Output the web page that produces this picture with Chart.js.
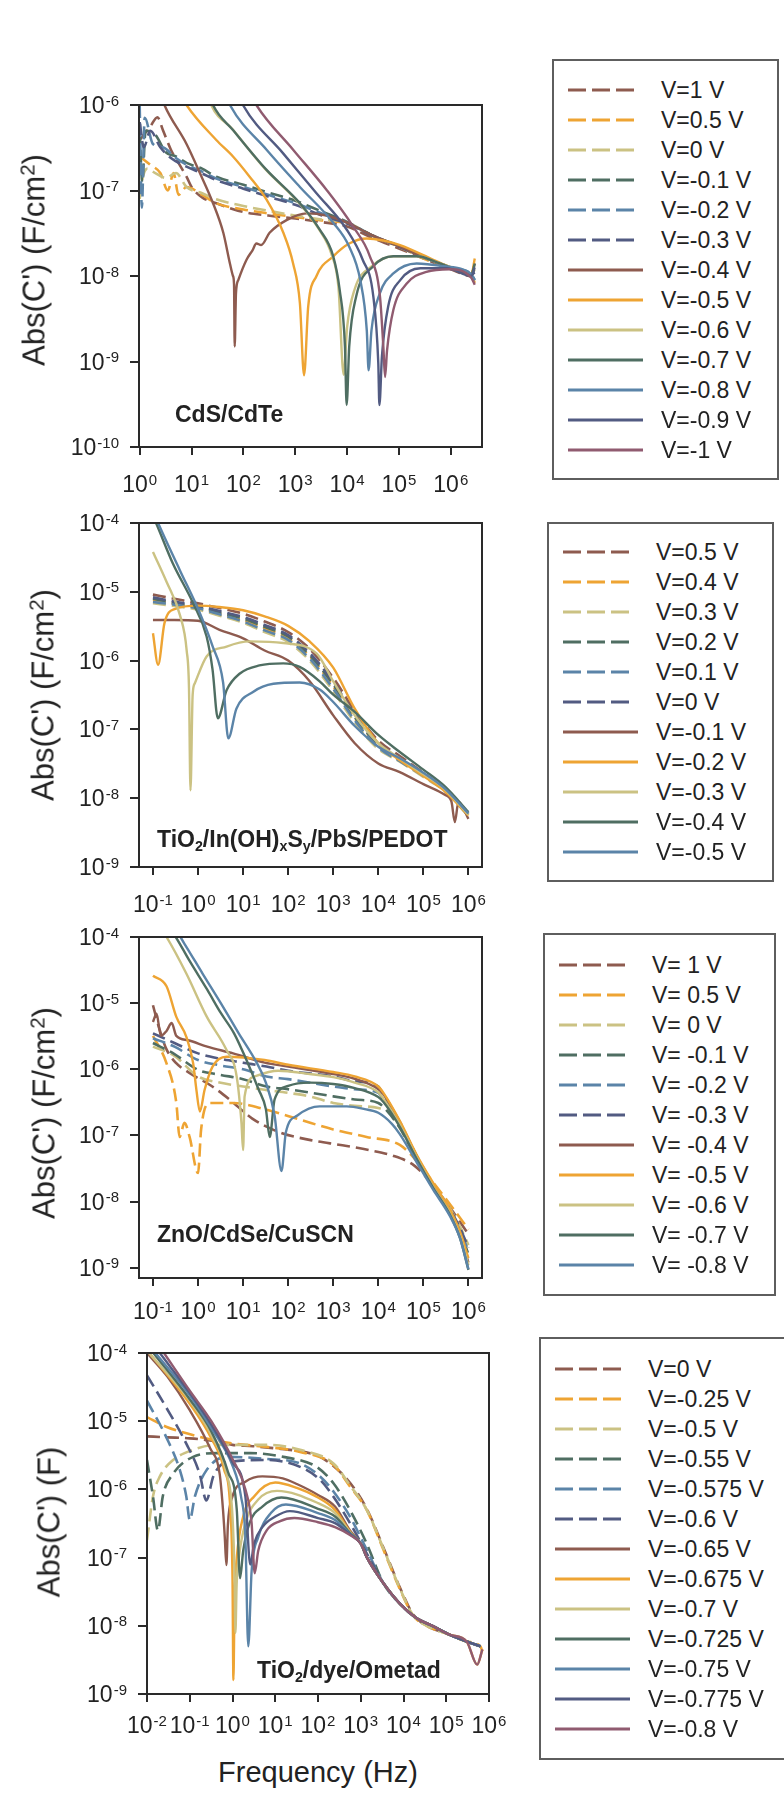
<!DOCTYPE html>
<html>
<head>
<meta charset="utf-8">
<script src="https://cdn.jsdelivr.net/npm/chart.js@4.4.1/dist/chart.umd.min.js"></script>
<style>
    body {
        margin: 0;
        width: 784px;
        height: 1796px;
        position: relative;
        overflow: hidden;
        background: #fff;
        color: #222;
        font-family: "Liberation Sans", Arial, sans-serif;
    }
    .plot { position: absolute; left: 0; }
    .ytitle {
        position: absolute;
        font-size: 31px;
        line-height: 31px;
        white-space: nowrap;
        transform: translate(-50%, -50%) rotate(-90deg);
    }
    .ytitle sup { font-size: 0.66em; vertical-align: 0.5em; line-height: 0; }
    .tag {
        position: absolute;
        font-size: 23px;
        line-height: 23px;
        font-weight: bold;
        white-space: nowrap;
    }
    .tag sub { font-size: 0.62em; vertical-align: -0.3em; line-height: 0; }
    .xtitle {
        position: absolute;
        font-size: 29px;
        line-height: 29px;
        white-space: nowrap;
        transform: translateX(-50%);
    }
    .legend {
        position: absolute;
        border: 2px solid #5e5e5e;
        box-sizing: border-box;
        background: #fff;
    }
    .legend svg { position: absolute; }
    .legend span {
        position: absolute;
        font-size: 23px;
        line-height: 30px;
        white-space: nowrap;
    }
</style>
</head>
<body>
<script>
// ---- data: frequency (Hz), Abs(C') ----

const cdteLabels = ['V=1 V', 'V=0.5 V', 'V=0 V', 'V=-0.1 V', 'V=-0.2 V', 'V=-0.3 V', 'V=-0.4 V',
    'V=-0.5 V', 'V=-0.6 V', 'V=-0.7 V', 'V=-0.8 V', 'V=-0.9 V', 'V=-1 V'];
const cdteXDecades = [0, 1, 2, 3, 4, 5, 6];
const cdteYDecades = [-10, -9, -8, -7, -6];
const cdteCurves = [
    [[1, 3.9e-7], [1.6, 5.6e-7], [2.2, 7.2e-7], [2.8, 5.1e-7], [4, 3.0e-7], [5.6, 2.1e-7], [8, 1.45e-7], [10, 1.1e-7], [16, 8.3e-8], [30, 7.1e-8], [100, 5.6e-8], [300, 5.1e-8], [1e3, 4.7e-8], [3e3, 4.3e-8], [1e4, 3.8e-8], [3e4, 2.8e-8], [1e5, 2.1e-8], [3e5, 1.6e-8], [1e6, 1.2e-8], [2.5e6, 1.0e-8], [2.9e6, 1.4e-8]],
    [[1, 2.5e-7], [1.6, 2.0e-7], [2.5, 1.6e-7], [3.5, 1.0e-7], [4.5, 1.6e-7], [5.6, 8.9e-8], [8, 1.1e-7], [16, 8.9e-8], [30, 7.1e-8], [100, 6.0e-8], [300, 5.4e-8], [1e3, 4.9e-8], [3e3, 4.5e-8], [1e4, 4.1e-8], [3e4, 3.0e-8], [1e5, 2.2e-8], [3e5, 1.6e-8], [1e6, 1.23e-8], [2.5e6, 1.02e-8], [2.9e6, 8.3e-9]],
    [[1, 8e-8], [1.1, 1.26e-7], [1.4, 1.8e-7], [2, 1.6e-7], [3.2, 1.4e-7], [5, 1.6e-7], [8, 1.1e-7], [16, 9.3e-8], [30, 7.9e-8], [100, 6.6e-8], [300, 5.8e-8], [1e3, 5.1e-8], [3e3, 4.6e-8], [1e4, 4.2e-8], [3e4, 3.0e-8], [1e5, 2.2e-8], [3e5, 1.65e-8], [1e6, 1.25e-8], [2.5e6, 1.03e-8], [2.9e6, 1.2e-8]],
    [[1, 5.0e-7], [1.12, 1.26e-7], [1.3, 5.0e-7], [2, 4.5e-7], [3.2, 2.8e-7], [5, 2.5e-7], [8, 2.1e-7], [16, 1.8e-7], [30, 1.45e-7], [100, 1.17e-7], [300, 9.5e-8], [1e3, 7.6e-8], [3e3, 5.8e-8], [1e4, 4.3e-8], [3e4, 3.0e-8], [1e5, 2.24e-8], [3e5, 1.66e-8], [1e6, 1.26e-8], [2.5e6, 1.05e-8], [2.9e6, 1.26e-8]],
    [[1, 1.0e-6], [1.1, 6.3e-8], [1.25, 7.1e-7], [1.8, 3.5e-7], [2.8, 3.2e-7], [5, 2.4e-7], [8, 2.0e-7], [16, 1.66e-7], [30, 1.38e-7], [100, 1.1e-7], [300, 8.9e-8], [1e3, 7.1e-8], [3e3, 5.5e-8], [1e4, 4.2e-8], [3e4, 3.0e-8], [1e5, 2.24e-8], [3e5, 1.66e-8], [1e6, 1.26e-8], [2.5e6, 1.05e-8], [2.9e6, 9e-9]],
    [[1, 6.3e-7], [1.2, 3.2e-7], [1.6, 5.0e-7], [2.5, 3.2e-7], [4, 2.4e-7], [8, 1.9e-7], [16, 1.58e-7], [30, 1.32e-7], [100, 1.05e-7], [300, 8.5e-8], [1e3, 6.8e-8], [3e3, 5.2e-8], [1e4, 4.1e-8], [3e4, 3.0e-8], [1e5, 2.2e-8], [3e5, 1.65e-8], [1e6, 1.25e-8], [2.5e6, 1.04e-8], [2.9e6, 1.1e-8]],
    [[2, 2.0e-6], [3, 1.0e-6], [8, 3.5e-7], [14.5, 1.6e-7], [26, 7.1e-8], [41, 3.2e-8], [55, 1.4e-8], [63, 1.0e-8], [66, 8e-9], [68, 1.5e-9], [72, 6.3e-9], [80, 9e-9], [115, 1.55e-8], [150, 2.0e-8], [178, 2.4e-8], [220, 2.3e-8], [320, 3.2e-8], [680, 4.5e-8], [1660, 5.4e-8], [4000, 5.1e-8], [1e4, 4.2e-8], [3e4, 3.0e-8], [1e5, 2.24e-8], [3e5, 1.66e-8], [1e6, 1.26e-8], [2.5e6, 1.05e-8], [2.9e6, 1.4e-8]],
    [[4.4, 1.95e-6], [8, 1.0e-6], [30, 3.9e-7], [63, 2.5e-7], [132, 1.45e-7], [280, 7.8e-8], [590, 3.2e-8], [910, 1.4e-8], [1230, 4.8e-9], [1480, 6.9e-10], [1780, 4.4e-9], [2570, 1.0e-8], [5400, 1.7e-8], [1.1e4, 2.4e-8], [2.4e4, 2.75e-8], [5e4, 2.6e-8], [1.05e5, 2.3e-8], [4.6e5, 1.55e-8], [1e6, 1.26e-8], [2.5e6, 1.05e-8], [2.9e6, 1.6e-8]],
    [[18, 1.8e-6], [24, 1.0e-6], [60, 5.3e-7], [260, 1.8e-7], [1150, 7.3e-8], [2800, 3.6e-8], [5000, 1.8e-8], [6800, 7.5e-9], [8600, 7e-10], [1.0e4, 2.5e-9], [1.4e4, 7e-9], [3e4, 1.3e-8], [8e4, 1.7e-8], [2.2e5, 1.7e-8], [6.2e5, 1.4e-8], [2.5e6, 1.05e-8]],
    [[20, 1.6e-6], [26, 1.0e-6], [63, 5.1e-7], [280, 1.74e-7], [1230, 7.1e-8], [2950, 3.5e-8], [5400, 1.7e-8], [7200, 6.9e-9], [9100, 1.5e-9], [9800, 3.1e-10], [1.1e4, 1.5e-9], [1.5e4, 5.8e-9], [3.2e4, 1.3e-8], [7.8e4, 1.7e-8], [2.2e5, 1.7e-8], [6.2e5, 1.4e-8], [2.5e6, 1.05e-8], [2.9e6, 1.4e-8]],
    [[40, 1.6e-6], [55, 1.0e-6], [280, 3.0e-7], [1230, 1.1e-7], [5400, 4.2e-8], [1.1e4, 2.2e-8], [1.8e4, 8.9e-9], [2.4e4, 2.3e-9], [2.6e4, 7.9e-10], [2.95e4, 2.3e-9], [4.3e4, 6.3e-9], [7.8e4, 1.07e-8], [2.2e5, 1.4e-8], [7.2e5, 1.3e-8], [2.5e6, 1.05e-8], [2.9e6, 8.9e-9]],
    [[70, 1.6e-6], [98, 1.0e-6], [590, 2.7e-7], [2570, 9.3e-8], [9800, 3.5e-8], [2.0e4, 1.55e-8], [3.2e4, 5.8e-9], [4.0e4, 9.5e-10], [4.2e4, 3.1e-10], [4.7e4, 1.15e-9], [6.2e4, 4.4e-9], [1.05e5, 8.9e-9], [2.6e5, 1.23e-8], [8.3e5, 1.23e-8], [2.5e6, 1.0e-8], [2.9e6, 1.26e-8]],
    [[120, 1.6e-6], [178, 1.0e-6], [910, 3.0e-7], [4000, 1.02e-7], [1.3e4, 3.8e-8], [2.75e4, 1.7e-8], [4.3e4, 5.8e-9], [5.0e4, 1.5e-9], [5.4e4, 6.6e-10], [5.9e4, 1.35e-9], [7.8e4, 4.0e-9], [1.4e5, 8.1e-9], [3.4e5, 1.12e-8], [9.5e5, 1.2e-8], [2.5e6, 9.5e-9], [2.9e6, 7.9e-9]]
];

const pbsLabels = ['V=0.5 V', 'V=0.4 V', 'V=0.3 V', 'V=0.2 V', 'V=0.1 V', 'V=0 V', 'V=-0.1 V',
    'V=-0.2 V', 'V=-0.3 V', 'V=-0.4 V', 'V=-0.5 V'];
const pbsXDecades = [-1, 0, 1, 2, 3, 4, 5, 6];
const pbsYDecades = [-9, -8, -7, -6, -5, -4];
const pbsCurves = [
    [[0.1, 9.1e-6], [0.3, 7.9e-6], [1, 6.8e-6], [3, 5.8e-6], [10, 4.8e-6], [30, 3.7e-6], [100, 2.6e-6], [300, 1.48e-6], [1e3, 5.6e-7], [3e3, 1.86e-7], [1e4, 6.9e-8], [3e4, 4.1e-8], [1e5, 2.34e-8], [3e5, 1.35e-8], [1e6, 5.9e-9]],
    [[0.1, 7.6e-6], [0.3, 6.6e-6], [1, 5.9e-6], [3, 4.8e-6], [10, 3.9e-6], [30, 2.95e-6], [100, 2.1e-6], [300, 1.15e-6], [1e3, 4.2e-7], [3e3, 1.45e-7], [1e4, 5.8e-8], [3e4, 3.55e-8], [1e5, 2.14e-8], [3e5, 1.29e-8], [1e6, 5.6e-9]],
    [[0.1, 6.8e-6], [0.3, 6.2e-6], [1, 5.5e-6], [3, 4.5e-6], [10, 3.55e-6], [30, 2.6e-6], [100, 1.86e-6], [300, 1.0e-6], [1e3, 3.6e-7], [3e3, 1.26e-7], [1e4, 5.2e-8], [3e4, 3.4e-8], [1e5, 2.04e-8], [3e5, 1.26e-8], [1e6, 5.5e-9]],
    [[0.1, 7.9e-6], [0.3, 6.9e-6], [1, 6.2e-6], [3, 5.0e-6], [10, 4.1e-6], [30, 3.1e-6], [100, 2.24e-6], [300, 1.2e-6], [1e3, 4.5e-7], [3e3, 1.5e-7], [1e4, 6.0e-8], [3e4, 3.7e-8], [1e5, 2.2e-8], [3e5, 1.32e-8], [1e6, 5.75e-9]],
    [[0.1, 7.1e-6], [0.3, 6.5e-6], [1, 5.75e-6], [3, 4.7e-6], [10, 3.7e-6], [30, 2.75e-6], [100, 2.0e-6], [300, 1.07e-6], [1e3, 3.9e-7], [3e3, 1.35e-7], [1e4, 5.5e-8], [3e4, 3.45e-8], [1e5, 2.1e-8], [3e5, 1.29e-8], [1e6, 5.6e-9]],
    [[0.1, 8.3e-6], [0.3, 7.2e-6], [1, 6.3e-6], [3, 5.25e-6], [10, 4.3e-6], [30, 3.3e-6], [100, 2.34e-6], [300, 1.29e-6], [1e3, 4.9e-7], [3e3, 1.62e-7], [1e4, 6.3e-8], [3e4, 3.8e-8], [1e5, 2.24e-8], [3e5, 1.32e-8], [1e6, 5.75e-9]],
    [[0.1, 3.9e-6], [0.3, 3.9e-6], [1, 3.8e-6], [3, 2.8e-6], [10, 2.1e-6], [30, 1.4e-6], [100, 1.0e-6], [300, 5.0e-7], [1e3, 1.6e-7], [3e3, 6.3e-8], [1e4, 3.2e-8], [3e4, 2.4e-8], [1e5, 1.6e-8], [3e5, 1.12e-8], [4.2e5, 8.9e-9], [5e5, 4.5e-9], [6e5, 8.9e-9], [1e6, 5.0e-9]],
    [[0.1, 2.5e-6], [0.13, 8.7e-7], [0.18, 3.5e-6], [0.3, 5.6e-6], [1, 6.3e-6], [3, 6.0e-6], [10, 5.4e-6], [30, 4.4e-6], [100, 3.2e-6], [300, 1.9e-6], [1e3, 7.9e-7], [3e3, 2.0e-7], [1e4, 6.3e-8], [3e4, 3.55e-8], [1e5, 2.1e-8], [3e5, 1.26e-8], [1e6, 5.6e-9]],
    [[0.1, 3.8e-5], [0.2, 1.4e-5], [0.4, 4.5e-6], [0.56, 1.4e-6], [0.63, 4.0e-7], [0.68, 1.3e-8], [0.76, 3.2e-7], [0.85, 4.7e-7], [1.55, 1.15e-6], [4.3, 1.6e-6], [14, 1.9e-6], [78, 1.8e-6], [430, 1.26e-6], [1e3, 5.0e-7], [3e3, 1.6e-7], [1e4, 6.3e-8], [3e4, 3.8e-8], [1e5, 2.24e-8], [3e5, 1.35e-8], [1e6, 5.75e-9]],
    [[0.1, 1.25e-4], [0.117, 1.0e-4], [0.275, 2.6e-5], [0.78, 6.8e-6], [1.55, 2.24e-6], [2.1, 7.4e-7], [2.75, 1.45e-7], [4.3, 3.7e-7], [8.5, 6.5e-7], [23, 8.5e-7], [78, 9.1e-7], [180, 8.1e-7], [500, 5.0e-7], [1e3, 3.2e-7], [3e3, 1.8e-7], [1e4, 8.3e-8], [3e4, 4.7e-8], [1e5, 2.6e-8], [3e5, 1.48e-8], [1e6, 6.3e-9]],
    [[0.11, 1.3e-4], [0.13, 1.0e-4], [0.39, 2.1e-5], [1.1, 4.9e-6], [2.1, 1.62e-6], [3.6, 4.8e-7], [4.7, 7.4e-8], [7.1, 2.0e-7], [16.6, 3.5e-7], [47, 4.6e-7], [180, 4.8e-7], [500, 3.8e-7], [1e3, 2.5e-7], [3e3, 1.12e-7], [1e4, 5.6e-8], [3e4, 3.8e-8], [1e5, 2.34e-8], [3e5, 1.38e-8], [1e6, 6.0e-9]]
];

const cdseLabels = ['V= 1 V', 'V= 0.5 V', 'V= 0 V', 'V= -0.1 V', 'V= -0.2 V', 'V= -0.3 V', 'V= -0.4 V',
    'V= -0.5 V', 'V= -0.6 V', 'V= -0.7 V', 'V= -0.8 V'];
const cdseXDecades = [-1, 0, 1, 2, 3, 4, 5, 6];
const cdseYDecades = [-9, -8, -7, -6, -5, -4];
const cdseCurves = [
    [[0.1, 9.3e-6], [0.14, 4.0e-6], [0.2, 2.0e-6], [0.32, 1.26e-6], [0.63, 8.9e-7], [2, 5.6e-7], [5, 3.5e-7], [16, 1.8e-7], [63, 1.12e-7], [316, 8.5e-8], [1.6e3, 7.1e-8], [6.3e3, 6.0e-8], [2e4, 5.0e-8], [6.3e4, 3.5e-8], [1.6e5, 1.8e-8], [4e5, 7.9e-9], [1e6, 3.2e-9]],
    [[0.1, 3.2e-6], [0.2, 1.23e-6], [0.33, 3.1e-7], [0.39, 9.5e-8], [0.5, 1.55e-7], [0.65, 9.5e-8], [1.0, 2.7e-8], [1.17, 1.23e-7], [1.8, 3.1e-7], [6, 3.1e-7], [33, 2.45e-7], [180, 1.74e-7], [1e3, 1.23e-7], [5.5e3, 9.5e-8], [3e4, 7.2e-8], [6.3e4, 4.5e-8], [1.6e5, 2.0e-8], [4e5, 8.9e-9], [1e6, 3.8e-9]],
    [[0.1, 2.2e-6], [0.3, 1.6e-6], [1, 7.8e-7], [3, 6.3e-7], [10, 5.5e-7], [30, 4.9e-7], [100, 4.4e-7], [300, 3.9e-7], [1e3, 3.1e-7], [3e3, 2.8e-7], [1e4, 2.6e-7], [1.8e4, 2.2e-7], [3e4, 1.3e-7], [7e4, 4.6e-8], [1.66e5, 1.8e-8], [3.9e5, 7.8e-9], [6.5e5, 4.2e-9], [1e6, 2.2e-9]],
    [[0.1, 2.5e-6], [0.3, 1.7e-6], [1, 9.8e-7], [3, 8.3e-7], [10, 7.1e-7], [33, 5.5e-7], [100, 5.0e-7], [1e3, 3.9e-7], [3e3, 3.5e-7], [1e4, 3.1e-7], [1.3e4, 2.7e-7], [3e4, 1.3e-7], [7e4, 4.5e-8], [1.66e5, 1.7e-8], [3.9e5, 7.0e-9], [6.5e5, 3.5e-9], [1e6, 1.6e-9]],
    [[0.1, 2.95e-6], [0.3, 2.2e-6], [1, 1.38e-6], [3, 1.15e-6], [10, 1.0e-6], [33, 7.8e-7], [100, 7.1e-7], [1e3, 5.5e-7], [3e3, 5.0e-7], [1e4, 4.4e-7], [1.3e4, 3.5e-7], [3e4, 1.5e-7], [7e4, 4.8e-8], [1.66e5, 1.75e-8], [3.9e5, 7.1e-9], [6.5e5, 3.6e-9], [1e6, 1.8e-9]],
    [[0.1, 3.5e-6], [0.3, 2.5e-6], [1, 1.74e-6], [3, 1.45e-6], [10, 1.26e-6], [33, 1.1e-6], [100, 9.5e-7], [1e3, 7.8e-7], [3e3, 6.6e-7], [1e4, 5.5e-7], [1.3e4, 4.0e-7], [3e4, 1.6e-7], [7e4, 5.0e-8], [1.66e5, 1.8e-8], [3.9e5, 7.6e-9], [6.5e5, 4.0e-9], [1e6, 2.0e-9]],
    [[0.1, 5.2e-6], [0.12, 6.9e-6], [0.15, 3.2e-6], [0.2, 3.8e-6], [0.26, 5.0e-6], [0.33, 3.2e-6], [0.6, 2.75e-6], [1.6, 2.2e-6], [6, 1.74e-6], [30, 1.26e-6], [100, 1.1e-6], [1e3, 8.5e-7], [3e3, 7.2e-7], [1e4, 5.0e-7], [1.3e4, 4.2e-7], [3e4, 1.6e-7], [7e4, 5.0e-8], [1.66e5, 1.8e-8], [3.9e5, 7.2e-9], [6.5e5, 3.3e-9], [1e6, 1.2e-9]],
    [[0.1, 2.6e-5], [0.2, 1.8e-5], [0.33, 6.2e-6], [0.55, 3.1e-6], [0.78, 1.23e-6], [0.92, 4.9e-7], [1.1, 2.3e-7], [1.4, 4.9e-7], [2.1, 1.1e-6], [4.3, 1.55e-6], [30, 1.38e-6], [100, 1.17e-6], [1e3, 9.1e-7], [3e3, 7.8e-7], [1e4, 5.5e-7], [1.3e4, 4.4e-7], [3e4, 1.66e-7], [7e4, 5.2e-8], [1.66e5, 1.9e-8], [3.9e5, 7.6e-9], [6.5e5, 3.5e-9], [1e6, 1.4e-9]],
    [[0.1, 2.0e-4], [0.2, 1.0e-4], [0.55, 2.8e-5], [1.55, 6.3e-6], [4.3, 1.95e-6], [7.2, 7.8e-7], [9.2, 1.55e-7], [10, 6.0e-8], [10.8, 3.9e-7], [18, 7.8e-7], [60, 9.5e-7], [300, 8.5e-7], [1e3, 7.6e-7], [3e3, 6.3e-7], [1e4, 4.5e-7], [1.3e4, 3.6e-7], [3e4, 1.45e-7], [7e4, 4.7e-8], [1.66e5, 1.66e-8], [3.9e5, 6.6e-9], [6.5e5, 3.0e-9], [1e6, 1.1e-9]],
    [[0.25, 1.26e-4], [0.32, 1.0e-4], [0.63, 4.5e-5], [1.6, 1.6e-5], [3.2, 7.1e-6], [6.3, 3.5e-6], [12.6, 1.26e-6], [22, 5.0e-7], [32, 2.5e-7], [39, 9.5e-8], [50, 3.5e-7], [100, 5.6e-7], [300, 6.3e-7], [1e3, 6.0e-7], [3e3, 5.2e-7], [1e4, 3.8e-7], [1.3e4, 3.2e-7], [3e4, 1.35e-7], [7e4, 4.5e-8], [1.66e5, 1.6e-8], [3.9e5, 6.3e-9], [6.5e5, 2.8e-9], [1e6, 9.3e-10]],
    [[0.28, 1.3e-4], [0.32, 1.26e-4], [0.5, 7.9e-5], [1.26, 2.8e-5], [3.2, 1.0e-5], [8, 3.5e-6], [20, 1.26e-6], [32, 6.3e-7], [50, 2.0e-7], [71, 2.9e-8], [89, 1.12e-7], [160, 2.0e-7], [500, 2.75e-7], [2000, 2.75e-7], [5000, 2.5e-7], [1e4, 2.2e-7], [2e4, 1.5e-7], [3e4, 1.05e-7], [7e4, 4.0e-8], [1.66e5, 1.5e-8], [3.9e5, 6.0e-9], [6.5e5, 2.8e-9], [1e6, 9.5e-10]]
];

const omeLabels = ['V=0 V', 'V=-0.25 V', 'V=-0.5 V', 'V=-0.55 V', 'V=-0.575 V', 'V=-0.6 V', 'V=-0.65 V',
    'V=-0.675 V', 'V=-0.7 V', 'V=-0.725 V', 'V=-0.75 V', 'V=-0.775 V', 'V=-0.8 V'];
const omeXDecades = [-2, -1, 0, 1, 2, 3, 4, 5, 6];
const omeYDecades = [-9, -8, -7, -6, -5, -4];
const omeCurves = [
    [[0.01, 6.0e-6], [0.03, 5.8e-6], [0.1, 5.6e-6], [0.3, 5.2e-6], [1, 4.5e-6], [3, 4.3e-6], [10, 4.0e-6], [30, 3.7e-6], [100, 3.1e-6], [230, 2.2e-6], [560, 1.25e-6], [1380, 5.2e-7], [3400, 1.4e-7], [8300, 3.6e-8], [1.7e4, 1.45e-8], [3.5e4, 1.0e-8], [1.2e5, 7.4e-9], [3e5, 5.9e-9], [6.3e5, 5.0e-9]],
    [[0.01, 1.15e-5], [0.028, 8.3e-6], [0.17, 5.9e-6], [1.05, 4.7e-6], [6.3, 4.2e-6], [38, 3.55e-6], [230, 2.3e-6], [560, 1.1e-6], [1380, 5.0e-7], [3400, 1.3e-7], [8300, 3.4e-8], [1.7e4, 1.4e-8], [3.5e4, 1.0e-8], [1.2e5, 7.4e-9], [3e5, 5.9e-9], [6.3e5, 5.0e-9], [7e5, 4.2e-9]],
    [[0.01, 1.8e-7], [0.0138, 7.9e-7], [0.02, 1.55e-6], [0.041, 2.7e-6], [0.12, 3.8e-6], [0.42, 4.5e-6], [6.3, 4.5e-6], [38, 3.8e-6], [230, 2.4e-6], [560, 1.15e-6], [1380, 5.0e-7], [3400, 1.35e-7], [8300, 3.5e-8], [1.7e4, 1.4e-8], [3.5e4, 1.0e-8], [1.2e5, 7.4e-9], [3e5, 5.9e-9], [6.3e5, 5.0e-9]],
    [[0.01, 2.7e-6], [0.0138, 7.9e-7], [0.018, 2.5e-7], [0.0234, 7.9e-7], [0.041, 1.7e-6], [0.12, 3.0e-6], [0.42, 3.4e-6], [2.6, 3.4e-6], [15.5, 3.0e-6], [93, 2.14e-6], [230, 1.23e-6], [560, 5.0e-7], [1380, 1.6e-7], [3400, 4.2e-8], [8.3e3, 2.1e-8], [2e4, 1.3e-8], [5e4, 9.8e-9], [1.2e5, 7.4e-9], [3e5, 5.9e-9], [6.3e5, 5.0e-9]],
    [[0.01, 2.0e-5], [0.028, 5.9e-6], [0.059, 1.9e-6], [0.083, 7.9e-7], [0.1, 3.55e-7], [0.132, 7.9e-7], [0.245, 1.9e-6], [0.72, 3.0e-6], [6.3, 2.8e-6], [38, 2.4e-6], [112, 1.55e-6], [230, 9.3e-7], [560, 4.0e-7], [1380, 1.3e-7], [3400, 4.2e-8], [8.3e3, 2.1e-8], [2e4, 1.3e-8], [5e4, 9.8e-9], [1.2e5, 7.4e-9], [3e5, 5.9e-9], [6.3e5, 5.0e-9]],
    [[0.01, 4.7e-5], [0.028, 1.6e-5], [0.083, 4.7e-6], [0.17, 1.7e-6], [0.245, 6.9e-7], [0.355, 1.55e-6], [0.72, 2.5e-6], [6.3, 2.7e-6], [38, 2.14e-6], [112, 1.38e-6], [230, 7.8e-7], [560, 3.2e-7], [1380, 1.15e-7], [3400, 4.2e-8], [8.3e3, 2.1e-8], [2e4, 1.3e-8], [5e4, 9.8e-9], [1.2e5, 7.4e-9], [3e5, 5.9e-9], [6.3e5, 5.0e-9]],
    [[0.01, 1.0e-4], [0.03, 4.5e-5], [0.1, 1.45e-5], [0.3, 4.0e-6], [0.5, 1.7e-6], [0.6, 5.0e-7], [0.66, 2.0e-7], [0.72, 7.8e-8], [0.78, 3.0e-7], [1.0, 7.9e-7], [2.0, 1.3e-6], [5.0, 1.55e-6], [15, 1.45e-6], [32, 1.2e-6], [100, 8.3e-7], [250, 5.6e-7], [560, 2.5e-7], [1e3, 1.6e-7], [1.4e3, 1.0e-7], [3.4e3, 4.2e-8], [8.3e3, 2.1e-8], [2e4, 1.3e-8], [5e4, 9.8e-9], [1.2e5, 7.4e-9], [3e5, 5.9e-9], [6.3e5, 5.0e-9]],
    [[0.01, 1.1e-4], [0.1, 1.8e-5], [0.32, 5.6e-6], [0.63, 2.0e-6], [0.89, 5.0e-7], [1.0, 5.0e-8], [1.05, 1.6e-9], [1.12, 2.5e-8], [1.26, 1.0e-7], [1.78, 4.0e-7], [3.2, 7.9e-7], [10, 1.26e-6], [32, 1.05e-6], [100, 7.6e-7], [250, 5.0e-7], [560, 2.4e-7], [1e3, 1.6e-7], [1.4e3, 1.0e-7], [3.4e3, 4.2e-8], [8.3e3, 2.1e-8], [2e4, 1.3e-8], [5e4, 9.8e-9], [1.2e5, 7.4e-9], [3e5, 5.9e-9], [5.3e5, 2.7e-9], [7e5, 4.5e-9]],
    [[0.0112, 1.0e-4], [0.1, 2.0e-5], [0.32, 6.3e-6], [0.71, 1.78e-6], [1.0, 4.0e-7], [1.12, 5.0e-8], [1.17, 7.9e-9], [1.25, 4.0e-8], [1.41, 1.0e-7], [2.0, 3.2e-7], [4.0, 7.1e-7], [11, 9.5e-7], [100, 6.3e-7], [250, 4.5e-7], [560, 2.35e-7], [1e3, 1.6e-7], [1.4e3, 1.0e-7], [3.4e3, 4.2e-8], [8.3e3, 2.1e-8], [2e4, 1.3e-8], [5e4, 9.8e-9], [1.2e5, 7.4e-9], [3e5, 5.9e-9], [6.3e5, 5.0e-9]],
    [[0.0141, 1.0e-4], [0.1, 2.1e-5], [0.32, 7.1e-6], [0.79, 1.78e-6], [1.26, 5.0e-7], [1.5, 5.0e-8], [1.78, 1.26e-7], [2.5, 3.2e-7], [5.0, 5.6e-7], [14, 7.6e-7], [100, 5.2e-7], [250, 4.0e-7], [560, 2.3e-7], [1e3, 1.6e-7], [1.4e3, 1.0e-7], [3.4e3, 4.2e-8], [8.3e3, 2.1e-8], [2e4, 1.3e-8], [5e4, 9.8e-9], [1.2e5, 7.4e-9], [3e5, 5.9e-9], [6.3e5, 5.0e-9]],
    [[0.0158, 1.0e-4], [0.1, 2.4e-5], [0.32, 7.9e-6], [1, 2.24e-6], [1.58, 7.9e-7], [2.0, 2.0e-7], [2.34, 5.0e-9], [2.8, 6.3e-8], [4.0, 2.0e-7], [7.9, 4.5e-7], [17.8, 6.0e-7], [100, 4.5e-7], [250, 3.55e-7], [560, 2.24e-7], [1e3, 1.6e-7], [1.4e3, 1.0e-7], [3.4e3, 4.2e-8], [8.3e3, 2.1e-8], [2e4, 1.3e-8], [5e4, 9.8e-9], [1.2e5, 7.4e-9], [3e5, 5.9e-9], [6.3e5, 5.0e-9]],
    [[0.02, 1.0e-4], [0.1, 2.6e-5], [0.32, 8.9e-6], [1, 2.5e-6], [2.0, 7.9e-7], [2.6, 7.9e-8], [3.2, 1.6e-7], [5.0, 2.8e-7], [10, 4.0e-7], [22, 4.8e-7], [100, 3.8e-7], [250, 3.2e-7], [560, 2.2e-7], [1e3, 1.6e-7], [1.4e3, 1.0e-7], [3.4e3, 4.2e-8], [8.3e3, 2.1e-8], [2e4, 1.3e-8], [5e4, 9.8e-9], [1.2e5, 7.4e-9], [3e5, 5.9e-9], [6.3e5, 5.0e-9]],
    [[0.025, 1.0e-4], [0.1, 2.8e-5], [0.32, 1.0e-5], [1, 2.8e-6], [2.0, 1.0e-6], [2.8, 3.2e-7], [3.3, 5.9e-8], [4.0, 1.26e-7], [6.3, 2.5e-7], [12.6, 3.4e-7], [28, 3.8e-7], [100, 3.3e-7], [250, 2.8e-7], [560, 2.14e-7], [1e3, 1.6e-7], [1.4e3, 1.0e-7], [3.4e3, 4.2e-8], [8.3e3, 2.1e-8], [2e4, 1.3e-8], [5e4, 9.8e-9], [1.2e5, 7.4e-9], [3e5, 5.9e-9], [5.3e5, 2.7e-9], [7e5, 4.5e-9]]
];

// ---- styling and layout ----

const palette = ['#8e5b4f', '#eea433', '#cbc283', '#4f6e62', '#5b84a8', '#525b82', '#905b70'];
const FONT = '"Liberation Sans", Arial, sans-serif';
const CANVAS_WIDTH = 520;
const PAD_TOP = 20;
const PAD_BOTTOM = 60;
const ROW_STEP = 30;

const panels = [
    {
        curves: cdteCurves, labels: cdteLabels, dashedCount: 6,
        xDecades: cdteXDecades, yDecades: cdteYDecades,
        xMin: 0.97, xMax: 4.0e6, yMin: 1e-10, yMax: 1e-6,
        box: [139, 105, 482, 447], xLabelOffset: 45,
        yTitle: 'Abs(C\') (F/cm<sup>2</sup>)', yTitleAt: [34, 260],
        tag: 'CdS/CdTe', tagAt: [175, 422],
        legend: [552, 59, 227, 421], legendFirstRow: 90
    },
    {
        curves: pbsCurves, labels: pbsLabels, dashedCount: 6,
        xDecades: pbsXDecades, yDecades: pbsYDecades,
        xMin: 0.049, xMax: 2.0e6, yMin: 1e-9, yMax: 1e-4,
        box: [139, 523, 482, 867], xLabelOffset: 45,
        yTitle: 'Abs(C\') (F/cm<sup>2</sup>)', yTitleAt: [43, 695],
        tag: 'TiO<sub>2</sub>/In(OH)<sub>x</sub>S<sub>y</sub>/PbS/PEDOT', tagAt: [157, 847],
        legend: [547, 522, 227, 360], legendFirstRow: 552
    },
    {
        curves: cdseCurves, labels: cdseLabels, dashedCount: 6,
        xDecades: cdseXDecades, yDecades: cdseYDecades,
        xMin: 0.049, xMax: 2.0e6, yMin: 7.06e-10, yMax: 1e-4,
        box: [139, 937, 482, 1278], xLabelOffset: 41,
        yTitle: 'Abs(C\') (F/cm<sup>2</sup>)', yTitleAt: [44, 1113],
        tag: 'ZnO/CdSe/CuSCN', tagAt: [157, 1242],
        legend: [543, 933, 233, 363], legendFirstRow: 965
    },
    {
        curves: omeCurves, labels: omeLabels, dashedCount: 6,
        xDecades: omeXDecades, yDecades: omeYDecades,
        xMin: 0.01, xMax: 1e6, yMin: 1e-9, yMax: 1e-4,
        box: [147, 1353, 489, 1694], xLabelOffset: 39,
        yTitle: 'Abs(C\') (F)', yTitleAt: [49, 1522],
        tag: 'TiO<sub>2</sub>/dye/Ometad', tagAt: [257, 1678],
        legend: [539, 1337, 250, 423], legendFirstRow: 1369
    }
];

function drawPower(ctx, exponent, x, baseline, align) {
    const base = '10';
    const sup = String(exponent);
    ctx.font = `23px ${FONT}`;
    const baseWidth = ctx.measureText(base).width;
    ctx.font = `15px ${FONT}`;
    const supWidth = ctx.measureText(sup).width;
    const total = baseWidth + 1 + supWidth;
    const start = align === 'right' ? x - total : x - total / 2;

    ctx.font = `23px ${FONT}`;
    ctx.fillText(base, start, baseline);
    ctx.font = `15px ${FONT}`;
    ctx.fillText(sup, start + baseWidth + 1, baseline - 7.5);
}

const framePlugin = {
    id: 'frame',
    afterDatasetsDraw(chart, args, opts) {
        const { ctx, chartArea: area, scales } = chart;
        ctx.save();
        ctx.strokeStyle = '#2a2a2a';
        ctx.lineWidth = 2;
        ctx.strokeRect(area.left, area.top, area.right - area.left, area.bottom - area.top);

        ctx.beginPath();
        for (const d of opts.xDecades) {
            const px = Math.round(scales.x.getPixelForValue(10 ** d));
            ctx.moveTo(px, area.bottom);
            ctx.lineTo(px, area.bottom + 8);
        }
        for (const d of opts.yDecades) {
            const py = Math.round(scales.y.getPixelForValue(10 ** d));
            ctx.moveTo(area.left - 9, py);
            ctx.lineTo(area.left, py);
        }
        ctx.stroke();

        ctx.fillStyle = '#222';
        ctx.textAlign = 'left';
        ctx.textBaseline = 'alphabetic';
        for (const d of opts.xDecades) {
            drawPower(ctx, d, scales.x.getPixelForValue(10 ** d), area.bottom + opts.xLabelOffset, 'center');
        }
        for (const d of opts.yDecades) {
            drawPower(ctx, d, area.left - 20, scales.y.getPixelForValue(10 ** d) + 8, 'right');
        }
        ctx.restore();
    }
};

function buildChart(panel) {
    const [left, top, right, bottom] = panel.box;
    const height = bottom - top + PAD_TOP + PAD_BOTTOM;

    const holder = document.createElement('div');
    holder.className = 'plot';
    holder.style.top = `${top - PAD_TOP}px`;
    const canvas = document.createElement('canvas');
    canvas.width = CANVAS_WIDTH;
    canvas.height = height;
    holder.append(canvas);
    document.body.append(holder);

    const count = panel.curves.length;
    const datasets = panel.curves.map((points, i) => {
        const dashed = i < panel.dashedCount;
        return {
            label: panel.labels[i],
            data: points,
            borderColor: palette[dashed ? i : i - panel.dashedCount],
            borderWidth: dashed ? 2.6 : 2.4,
            borderDash: dashed ? [13, 6] : [],
            borderJoinStyle: 'round',
            pointRadius: 0,
            cubicInterpolationMode: 'monotone',
            order: count - i
        };
    });

    return new Chart(canvas, {
        type: 'line',
        data: { datasets },
        options: {
            responsive: false,
            animation: false,
            layout: {
                padding: { left, right: CANVAS_WIDTH - right, top: PAD_TOP, bottom: PAD_BOTTOM }
            },
            plugins: {
                legend: { display: false },
                tooltip: { enabled: false },
                frame: {
                    xDecades: panel.xDecades,
                    yDecades: panel.yDecades,
                    xLabelOffset: panel.xLabelOffset
                }
            },
            scales: {
                x: { type: 'logarithmic', min: panel.xMin, max: panel.xMax, display: false },
                y: { type: 'logarithmic', min: panel.yMin, max: panel.yMax, display: false }
            }
        },
        plugins: [framePlugin]
    });
}

function addText(className, html, x, y) {
    const el = document.createElement('div');
    el.className = className;
    el.innerHTML = html;
    el.style.left = `${x}px`;
    el.style.top = `${y}px`;
    document.body.append(el);
    return el;
}

function buildLegend(panel) {
    const [x, y, w, h] = panel.legend;
    const box = document.createElement('div');
    box.className = 'legend';
    box.style.left = `${x}px`;
    box.style.top = `${y}px`;
    box.style.width = `${w}px`;
    box.style.height = `${h}px`;

    const svgNS = 'http://www.w3.org/2000/svg';
    panel.labels.forEach((label, i) => {
        const dashed = i < panel.dashedCount;
        const rowY = panel.legendFirstRow - y - 2 + i * ROW_STEP;

        const svg = document.createElementNS(svgNS, 'svg');
        svg.setAttribute('width', '80');
        svg.setAttribute('height', '8');
        svg.style.left = '14px';
        svg.style.top = `${rowY - 4}px`;
        const line = document.createElementNS(svgNS, 'line');
        line.setAttribute('x1', '0');
        line.setAttribute('y1', '4');
        line.setAttribute('x2', dashed ? '66' : '75');
        line.setAttribute('y2', '4');
        line.setAttribute('stroke', palette[dashed ? i : i - panel.dashedCount]);
        line.setAttribute('stroke-width', '3');
        if (dashed) {
            line.setAttribute('stroke-dasharray', '18 6');
        }
        svg.append(line);

        const text = document.createElement('span');
        text.textContent = label;
        text.style.left = '107px';
        text.style.top = `${rowY - 15}px`;

        box.append(svg, text);
    });
    document.body.append(box);
}

for (const panel of panels) {
    buildChart(panel);
    addText('ytitle', panel.yTitle, panel.yTitleAt[0], panel.yTitleAt[1]);
    addText('tag', panel.tag, panel.tagAt[0], panel.tagAt[1] - 19);
    buildLegend(panel);
}

addText('xtitle', 'Frequency (Hz)', 318, 1758);
</script>
</body>
</html>
